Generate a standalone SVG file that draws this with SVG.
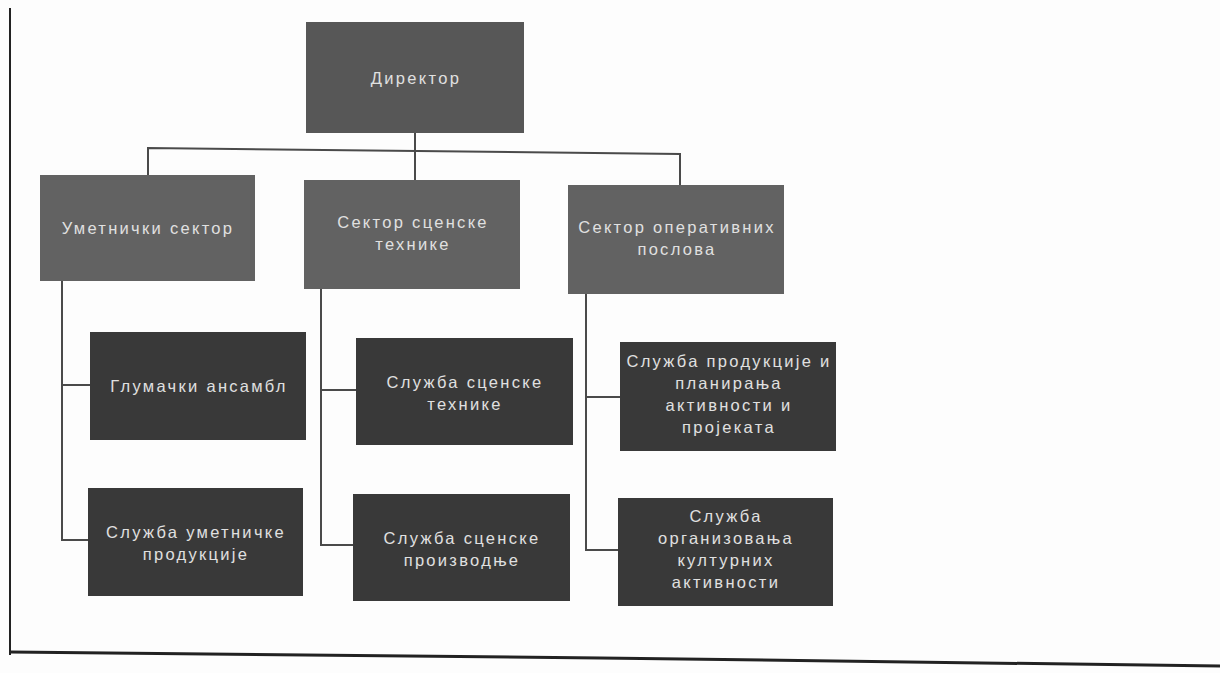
<svg xmlns="http://www.w3.org/2000/svg" width="1220" height="673" viewBox="0 0 1220 673">
<style>
.l2{fill:#626262}
.l1{fill:#575757}
.l3{fill:#393939}
.t{font-family:"Liberation Sans",Arial,sans-serif;font-size:16.5px;letter-spacing:2.3px;fill:#e0e0e0;text-anchor:middle}
.c{stroke:#4a4a4a;stroke-width:2;fill:none}
</style>
<rect width="1220" height="673" fill="#fdfdfd"/>
<g id="frame">
<line x1="10" y1="8" x2="10" y2="655" stroke="#222" stroke-width="2"/>
<path d="M10 652 L600 658 L1220 666" stroke="#222" stroke-width="3" fill="none"/>
</g>
<g id="connectors">
<path class="c" d="M415 133 V151"/>
<path class="c" d="M148 175 V148 L680 154 V185"/>
<path class="c" d="M415 151 V180"/>
<path class="c" d="M62 281 V540 H88 M62 385 H90"/>
<path class="c" d="M321 289 V545 H353 M321 390 H356"/>
<path class="c" d="M586 294 V550 H618 M586 397 H620"/>
</g>
<g id="n-direktor"><rect class="l1" x="306" y="22" width="218" height="111"/><text class="t" x="416" y="84">Директор</text></g>
<g id="n-umetnicki"><rect class="l2" x="40" y="175" width="215" height="106"/><text class="t" x="148" y="234">Уметнички сектор</text></g>
<g id="n-scenske"><rect class="l2" x="304" y="180" width="216" height="109"/><text class="t" x="413" y="228">Сектор сценске</text><text class="t" x="413" y="250">технике</text></g>
<g id="n-operativnih"><rect class="l2" x="568" y="185" width="216" height="109"/><text class="t" x="677" y="233">Сектор оперативних</text><text class="t" x="677" y="255">послова</text></g>
<g id="n-glumacki"><rect class="l3" x="90" y="332" width="216" height="108"/><text class="t" x="199" y="392">Глумачки ансамбл</text></g>
<g id="n-umprod"><rect class="l3" x="88" y="488" width="215" height="108"/><text class="t" x="196" y="538">Служба уметничке</text><text class="t" x="196" y="560">продукције</text></g>
<g id="n-sctehnike"><rect class="l3" x="356" y="338" width="217" height="107"/><text class="t" x="465" y="388">Служба сценске</text><text class="t" x="465" y="410">технике</text></g>
<g id="n-scproizv"><rect class="l3" x="353" y="494" width="217" height="107"/><text class="t" x="462" y="544">Служба сценске</text><text class="t" x="462" y="566">производње</text></g>
<g id="n-produkcije"><rect class="l3" x="620" y="342" width="216" height="109"/><text class="t" x="729" y="367">Служба продукције и</text><text class="t" x="729" y="389">планирања</text><text class="t" x="729" y="411">активности и</text><text class="t" x="729" y="433">пројеката</text></g>
<g id="n-organizovanja"><rect class="l3" x="618" y="498" width="215" height="108"/><text class="t" x="726" y="522">Служба</text><text class="t" x="726" y="544">организовања</text><text class="t" x="726" y="566">културних</text><text class="t" x="726" y="588">активности</text></g>
</svg>
